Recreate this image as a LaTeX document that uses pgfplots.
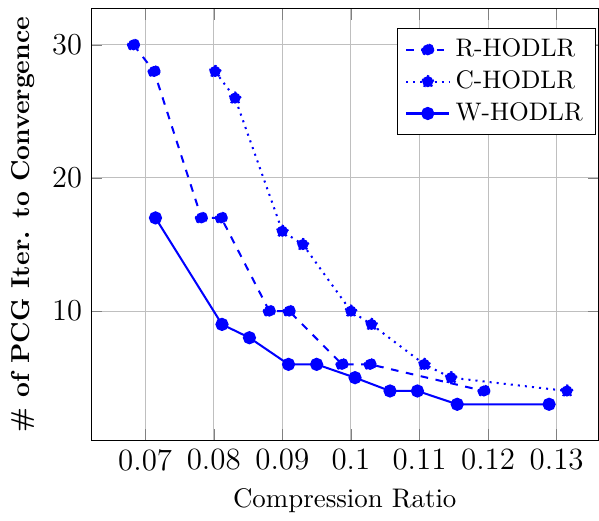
\documentclass[border=0pt]{standalone}
\usepackage{pgfplots}
\pgfplotsset{compat=1.18}
\begin{document}
\begin{tikzpicture}
\begin{axis}[
  name=main,
  scale only axis,
  width=200pt, height=170pt,
  xmin=0.0621, xmax=0.1361,
  ymin=0.3, ymax=32.7,
  xtick={0.07,0.08,0.09,0.1,0.11,0.12,0.13},
  xticklabels={0.07,0.08,0.09,0.1,0.11,0.12,0.13},
  ytick={10,20,30},
  grid=major,
  tick label style={font=\fontsize{12.2}{14}\selectfont},
  xlabel={\fontsize{10.6}{12}\selectfont Compression Ratio},
  ylabel={\fontsize{10.2}{12}\selectfont\textbf{\# of PCG Iter. to Convergence}},
  legend style={at={(0.995,0.955)}, anchor=north east, cells={anchor=west}},
]
\addplot[dashed, mark=*, blue, thick, mark size=2.2pt] coordinates {
(0.0683,30) (0.0713,28) (0.0782,17) (0.0811,17) (0.0881,10) (0.0910,10)
(0.0987,6) (0.1028,6) (0.1194,4)};
\addlegendentry{R-HODLR}
\addplot[dotted, mark=*, blue, thick, mark size=2.2pt] coordinates {
(0.0802,28) (0.0831,26) (0.0900,16) (0.0930,15) (0.1000,10) (0.1030,9)
(0.1107,6) (0.1146,5) (0.1315,4)};
\addlegendentry{C-HODLR}
\addplot[solid, mark=*, blue, thick, mark size=2.2pt] coordinates {
(0.0715,17) (0.0812,9) (0.0852,8) (0.0909,6) (0.0950,6) (0.1006,5)
(0.1057,4) (0.1097,4) (0.1155,3) (0.1289,3)};
\addlegendentry{W-HODLR}
\end{axis}
\path (current bounding box.south west) ++(-1.2pt,0pt)
      ([yshift=3.5pt]main.north east);
\end{tikzpicture}
\end{document}
